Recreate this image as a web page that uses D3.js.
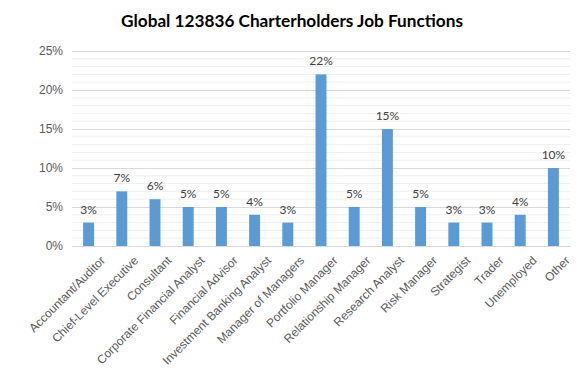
<!DOCTYPE html>
<html>
<head>
<meta charset="utf-8">
<script src="https://cdn.jsdelivr.net/npm/d3@7"></script>
<style>
  body { margin: 0; background: #fff; }
  svg { display: block; font-family: "Lato", "Open Sans", sans-serif; }
  .tick text { fill: #595959; font-size: 12px; }
</style>
</head>
<body>
<svg id="chart" width="584" height="376"></svg>
<script>
const categories = [
  "Accountant/Auditor", "Chief-Level Executive", "Consultant",
  "Corporate Financial Analyst", "Financial Advisor", "Investment Banking Analyst",
  "Manager of Managers", "Portfolio Manager", "Relationship Manager",
  "Research Analyst", "Risk Manager", "Strategist", "Trader", "Unemployed", "Other"
];
const shares = [3, 7, 6, 5, 5, 4, 3, 22, 5, 15, 5, 3, 3, 4, 10];
const yTicks = [0, 5, 10, 15, 20, 25];
const minorTicks = d3.range(0, 26, 1);

const svg = d3.select("#chart");
const margin = { top: 51, right: 14, bottom: 130, left: 72 };
const width = 584 - margin.left - margin.right;
const height = 376 - margin.top - margin.bottom;

const chart = svg.append("g").attr("transform", `translate(${margin.left}, ${margin.top})`);

const x = d3.scaleBand().domain(categories).range([0, width]).paddingInner(0.67).paddingOuter(0.335);
const y = d3.scaleLinear().domain([0, 25]).range([height, 0]);

// minor grid lines
chart.append("g")
  .selectAll("line")
  .data(minorTicks.filter(d => d % 5 !== 0))
  .join("line")
  .attr("x1", 0).attr("x2", width)
  .attr("y1", d => y(d)).attr("y2", d => y(d))
  .attr("stroke", "#efefef");

// major grid lines
chart.append("g")
  .call(d3.axisLeft(y).tickValues(yTicks).tickSize(-width).tickFormat(d => d + "%").tickPadding(9))
  .call(g => g.select(".domain").remove())
  .call(g => g.selectAll(".tick line").attr("stroke", "#d9d9d9"));

// bars
chart.selectAll("rect.bar")
  .data(shares)
  .join("rect")
  .attr("class", "bar")
  .attr("x", (d, i) => x(categories[i]))
  .attr("width", x.bandwidth())
  .attr("y", d => y(d))
  .attr("height", d => height - y(d))
  .attr("fill", "#5b9bd5");

// value labels
chart.selectAll("text.value")
  .data(shares)
  .join("text")
  .attr("class", "value")
  .attr("x", (d, i) => x(categories[i]) + x.bandwidth() / 2)
  .attr("y", d => y(d) - 9)
  .attr("text-anchor", "middle")
  .attr("fill", "#404040")
  .attr("font-size", 12)
  .text(d => d + "%");

// x axis
chart.append("g")
  .attr("transform", `translate(0, ${height})`)
  .call(d3.axisBottom(x).tickSize(0).tickPadding(6))
  .call(g => g.select(".domain").attr("stroke", "#d9d9d9"))
  .call(g => g.selectAll(".tick text")
    .attr("text-anchor", "end")
    .attr("dy", "0.35em")
    .attr("transform", "translate(10, 8) rotate(-45)"));

// title
svg.append("text")
  .attr("x", 292)
  .attr("y", 27)
  .attr("text-anchor", "middle")
  .attr("font-weight", "bold")
  .attr("font-size", 17.2)
  .attr("fill", "#000")
  .text("Global 123836 Charterholders Job Functions");
</script>
</body>
</html>
